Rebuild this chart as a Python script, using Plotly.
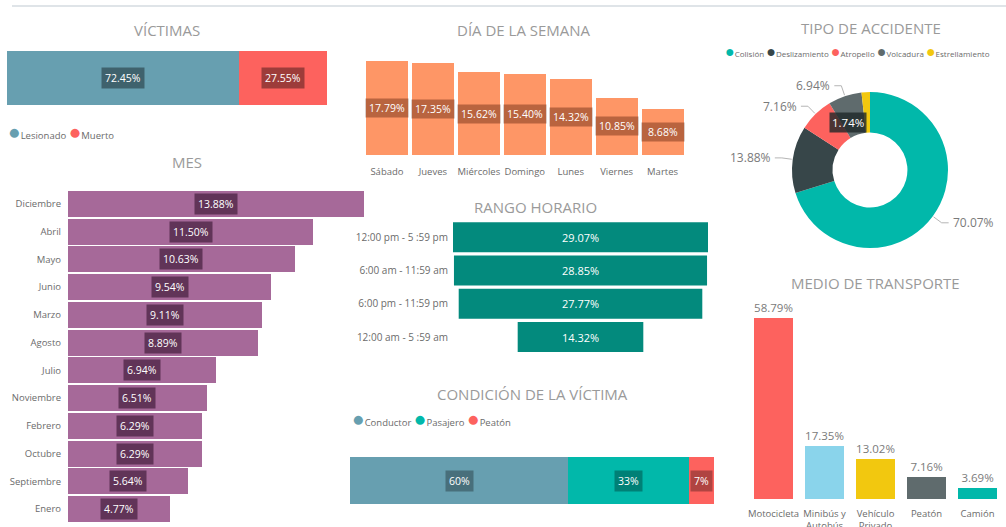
import math
import plotly.graph_objects as go

W, H = 1006, 527

# ---------------- DATA ----------------
victimas_cats = ["Lesionado", "Muerto"]
victimas_vals = [72.45, 27.55]

dias = ["Sábado", "Jueves", "Miércoles", "Domingo", "Lunes", "Viernes", "Martes"]
dias_vals = [17.79, 17.35, 15.62, 15.40, 14.32, 10.85, 8.68]

meses = ["Diciembre", "Abril", "Mayo", "Junio", "Marzo", "Agosto", "Julio",
         "Noviembre", "Febrero", "Octubre", "Septiembre", "Enero"]
meses_vals = [13.88, 11.50, 10.63, 9.54, 9.11, 8.89, 6.94, 6.51, 6.29, 6.29, 5.64, 4.77]

rangos = ["12:00 pm - 5 :59 pm", "6:00 am - 11:59 am", "6:00 pm - 11:59 pm", "12:00 am - 5 :59 am"]
rangos_vals = [29.07, 28.85, 27.77, 14.32]

tipos = ["Colisión", "Deslizamiento", "Atropello", "Volcadura", "Estrellamiento"]
tipos_vals = [70.07, 13.88, 7.16, 6.94, 1.74]

condicion = ["Conductor", "Pasajero", "Peatón"]
condicion_vals = [60, 33, 7]

medios = ["Motocicleta", "Minibús y<br>Autobús", "Vehículo<br>Privado", "Peatón", "Camión"]
medios_vals = [58.79, 17.35, 13.02, 7.16, 3.69]

# ---------------- STYLE ----------------
FONT = "Open Sans"
TITLE_C = "#9a9a9a"
TICK_C = "#6b6b6b"
C_LES = "#679FB0"
C_RED = "#FD625E"
C_TEAL = "#01B8AA"
C_DARK = "#374649"
C_GRAY = "#5F6B6D"
C_YEL = "#F2C80F"
C_LBLUE = "#8AD4EB"
C_ORANGE = "#FE9666"
C_PURPLE = "#A66999"
C_FUNNEL = "#038A7D"

victimas_colors = [C_LES, C_RED]
tipos_colors = [C_TEAL, C_DARK, C_RED, C_GRAY, C_YEL]
condicion_colors = [C_LES, C_TEAL, C_RED]
medios_colors = [C_RED, C_LBLUE, C_YEL, C_GRAY, C_TEAL]


def px(p):
    return p / W


def py(p):
    return 1 - p / H


def hid(**kw):
    d = dict(showgrid=False, zeroline=False, showticklabels=False, showline=False, fixedrange=True,
             automargin=False)
    d.update(kw)
    return d


fig = go.Figure()
annotations = []
shapes = []


def box(x, y, text, xref, yref, bg, size=10.5, width=None, pad=2):
    a = dict(x=x, y=y, xref=xref, yref=yref, text=text, showarrow=False,
             font=dict(color="white", size=size, family=FONT), bgcolor=bg, borderpad=pad,
             xanchor="center", yanchor="middle")
    if width:
        a["width"] = width
    annotations.append(a)


def title(text, xc, yc):
    annotations.append(dict(x=px(xc), y=py(yc), xref="paper", yref="paper", text=text,
                            showarrow=False, xanchor="center", yanchor="middle",
                            font=dict(size=15, color=TITLE_C, family=FONT)))


def legend(items, colors, x0, yc, size, bullet=2.2):
    parts = []
    for name, col in zip(items, colors):
        parts.append(f"<span style='color:{col};font-size:{size*bullet:.1f}px'>●</span>{name}")
    annotations.append(dict(x=px(x0), y=py(yc), xref="paper", yref="paper", text=" ".join(parts),
                            showarrow=False, xanchor="left", yanchor="middle",
                            font=dict(size=size, color=TICK_C, family=FONT)))


# ---------- VÍCTIMAS (x / y) ----------
cum = 0
for name, v, c in zip(victimas_cats, victimas_vals, victimas_colors):
    fig.add_trace(go.Bar(x=[v], y=[0], orientation="h", marker=dict(color=c, line=dict(width=0)),
                         width=1, name=name, showlegend=False, xaxis="x", yaxis="y", hoverinfo="skip"))
    box(cum + v / 2, 0, f"{v:.2f}%", "x", "y", "rgba(0,0,0,0.38)", pad=3)
    cum += v
title("VÍCTIMAS", 167, 30)
legend(victimas_cats, victimas_colors, 6, 131, 9.5)

# ---------- DÍA DE LA SEMANA (x2 / y2) ----------
fig.add_trace(go.Bar(x=dias, y=dias_vals, marker=dict(color=C_ORANGE, line=dict(width=0)), width=0.915,
                     showlegend=False, xaxis="x2", yaxis="y2", hoverinfo="skip"))
for d, v in zip(dias, dias_vals):
    box(d, v / 2, f"{v:.2f}%", "x2", "y2", "rgba(90,30,10,0.42)", size=10.5, width=38)
title("DÍA DE LA SEMANA", 524, 30)

# ---------- MES (x3 / y3) ----------
fig.add_trace(go.Bar(x=meses_vals, y=meses, orientation="h", marker=dict(color=C_PURPLE, line=dict(width=0)),
                     width=0.94, showlegend=False, xaxis="x3", yaxis="y3", hoverinfo="skip"))
for m, v in zip(meses, meses_vals):
    box(v / 2, m, f"{v:.2f}%", "x3", "y3", "rgba(40,10,35,0.55)", size=10.5, pad=3)
title("MES", 187, 162)

# ---------- RANGO HORARIO (x4 / y4) ----------
fig.add_trace(go.Funnel(y=rangos, x=rangos_vals, marker=dict(color=C_FUNNEL, line=dict(width=0)),
                        text=[f"{v:.2f}%" for v in rangos_vals], textinfo="text", textposition="inside",
                        insidetextanchor="middle", textfont=dict(color="white", size=11, family=FONT),
                        connector=dict(visible=False), showlegend=False, xaxis="x4", yaxis="y4",
                        hoverinfo="skip"))
title("RANGO HORARIO", 535, 207)

# ---------- CONDICIÓN DE LA VÍCTIMA (x5 / y5) ----------
cum = 0
for name, v, c in zip(condicion, condicion_vals, condicion_colors):
    fig.add_trace(go.Bar(x=[v], y=[0], orientation="h", marker=dict(color=c, line=dict(width=0)),
                         width=1, name=name, showlegend=False, xaxis="x5", yaxis="y5", hoverinfo="skip"))
    box(cum + v / 2, 0, f"{v}%", "x5", "y5", "rgba(0,0,0,0.3)", pad=3)
    cum += v
title("CONDICIÓN DE LA VÍCTIMA", 532, 394)
legend(condicion, condicion_colors, 350, 418, 9.5)

# ---------- MEDIO DE TRANSPORTE (x6 / y6) ----------
fig.add_trace(go.Bar(x=medios, y=medios_vals, marker=dict(color=medios_colors, line=dict(width=0)), width=0.77,
                     text=[f"{v:.2f}%" for v in medios_vals], textposition="outside", cliponaxis=False,
                     constraintext="none", textfont=dict(color="#7a7a7a", size=11.5, family=FONT),
                     showlegend=False, xaxis="x6", yaxis="y6", hoverinfo="skip"))
title("MEDIO DE TRANSPORTE", 875, 283)

# ---------- TIPO DE ACCIDENTE (pie) ----------
CX, CY, R = 870, 170, 78
HOLE = 0.48
fig.add_trace(go.Pie(labels=tipos, values=tipos_vals, hole=HOLE, sort=False, direction="clockwise",
                     rotation=0, marker=dict(colors=tipos_colors, line=dict(color="white", width=0)),
                     textinfo="none", showlegend=False, hoverinfo="skip", automargin=False,
                     domain=dict(x=[px(CX - R), px(CX + R)], y=[py(CY + R), py(CY - R)])))
title("TIPO DE ACCIDENTE", 871, 28)
legend(tipos, tipos_colors, 723, 51, 8.0, bullet=2.0)

total = sum(tipos_vals)
c = 0
for i, (name, v) in enumerate(zip(tipos, tipos_vals)):
    th = 2 * math.pi * (c + v / 2) / total
    c += v
    sx, sy = math.sin(th), -math.cos(th)
    lab = f"{v:.2f}%"
    if v < 3:
        rm = R * (1 + HOLE) / 2
        annotations.append(dict(x=px(CX + rm * sx), y=py(CY + rm * sy), xref="paper", yref="paper",
                                text=lab, showarrow=False, bgcolor="rgba(30,40,40,0.8)", borderpad=2,
                                font=dict(color="white", size=11.5, family=FONT)))
        continue
    p0 = (CX + (R + 1) * sx, CY + (R + 1) * sy)
    p1 = (CX + (R + 11) * sx, CY + (R + 11) * sy)
    side = 1 if sx > 0 else -1
    p2 = (p1[0] + side * 7, p1[1])
    shapes.append(dict(type="path", xref="paper", yref="paper",
                       path=f"M {px(p0[0])},{py(p0[1])} L {px(p1[0])},{py(p1[1])} L {px(p2[0])},{py(p2[1])}",
                       line=dict(color="#b5b5b5", width=1)))
    annotations.append(dict(x=px(p2[0] + side * 2), y=py(p2[1]), xref="paper", yref="paper", text=lab,
                            showarrow=False, xanchor="left" if side > 0 else "right", yanchor="middle",
                            font=dict(color="#7a7a7a", size=12, family=FONT)))

# top divider
shapes.append(dict(type="line", xref="paper", yref="paper", x0=px(12), x1=1, y0=py(6), y1=py(6),
                   line=dict(color="#dfe4e8", width=2)))

tickfont = dict(size=9.5, color=TICK_C, family=FONT)

fig.update_layout(
    width=W, height=H, autosize=False, margin=dict(l=0, r=0, t=0, b=0, autoexpand=False),
    paper_bgcolor="white", plot_bgcolor="white", barmode="stack", funnelgap=0.1,
    font=dict(family=FONT),
    xaxis=hid(domain=[px(7), px(327)], range=[0, 100], anchor="y"),
    yaxis=hid(domain=[py(105), py(51)], range=[-0.5, 0.5], anchor="x"),
    xaxis2=hid(domain=[px(364), px(685.5)], anchor="y2", type="category", showticklabels=True,
               tickfont=tickfont, ticklabelstandoff=9),
    yaxis2=hid(domain=[py(155), py(61)], range=[0, max(dias_vals)], anchor="x2"),
    xaxis3=hid(domain=[px(68), px(364)], range=[0, max(meses_vals)], anchor="y3"),
    yaxis3=hid(domain=[py(523), py(190)], anchor="x3", type="category", autorange="reversed",
               showticklabels=True, tickfont=tickfont, ticklabelstandoff=6),
    xaxis4=hid(domain=[px(453), px(708)], range=[-max(rangos_vals) / 2, max(rangos_vals) / 2], anchor="y4"),
    yaxis4=hid(domain=[py(353.7), py(220.5)], anchor="x4", type="category", autorange="reversed",
               showticklabels=True, tickfont=dict(size=10, color=TICK_C, family=FONT), ticklabelstandoff=4),
    xaxis5=hid(domain=[px(350), px(714)], range=[0, 100], anchor="y5"),
    yaxis5=hid(domain=[py(504), py(457)], range=[-0.5, 0.5], anchor="x5"),
    xaxis6=hid(domain=[px(748), px(1003)], anchor="y6", type="category", showticklabels=True,
               tickfont=tickfont, ticklabelstandoff=7),
    yaxis6=hid(domain=[py(499), py(318)], range=[0, max(medios_vals)], anchor="x6"),
    annotations=annotations, shapes=shapes,
)

post = ("document.documentElement.style.cssText='margin:0;padding:0;overflow:hidden;height:527px;';"
        "document.body.style.cssText='margin:0;padding:0;overflow:hidden;height:527px;';")
fig.write_html("out.html", config={"displayModeBar": False}, post_script=post)
